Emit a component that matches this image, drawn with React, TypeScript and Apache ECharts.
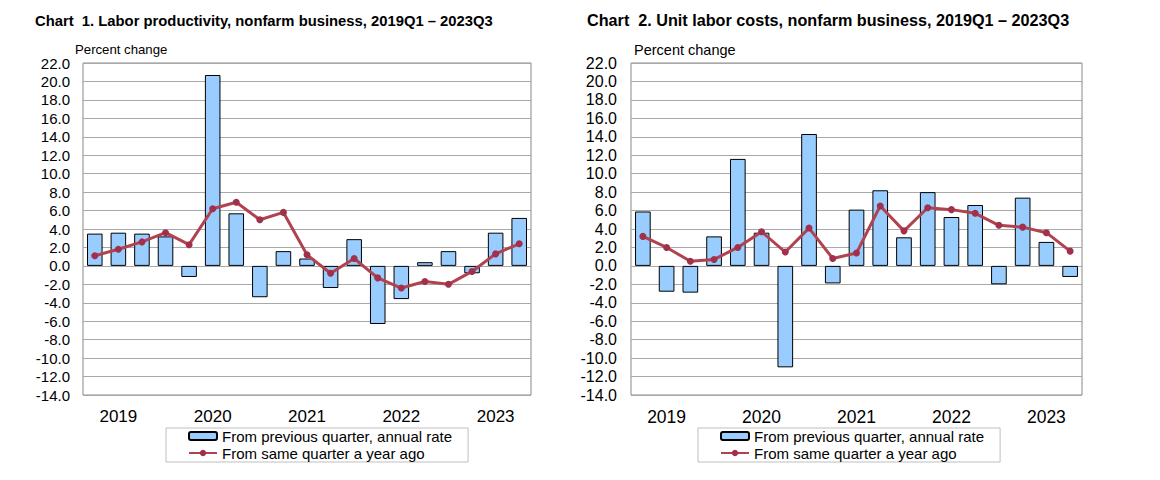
import React, { useEffect, useRef } from "react";
import * as echarts from "echarts";

const quarters = [
  "2019Q1", "2019Q2", "2019Q3", "2019Q4",
  "2020Q1", "2020Q2", "2020Q3", "2020Q4",
  "2021Q1", "2021Q2", "2021Q3", "2021Q4",
  "2022Q1", "2022Q2", "2022Q3", "2022Q4",
  "2023Q1", "2023Q2", "2023Q3",
];

const prodQuarterly = [3.5, 3.6, 3.5, 3.2, -1.2, 20.7, 5.7, -3.4, 1.6, 0.8, -2.4, 2.9, -6.3, -3.6, 0.4, 1.6, -0.8, 3.6, 5.2];
const prodYearAgo = [1.1, 1.8, 2.6, 3.6, 2.3, 6.2, 6.9, 5.0, 5.8, 1.2, -0.8, 0.8, -1.3, -2.4, -1.7, -2.0, -0.6, 1.3, 2.4];

const ulcQuarterly = [5.9, -2.8, -2.9, 3.2, 11.6, 3.6, -11.0, 14.3, -1.9, 6.1, 8.2, 3.1, 8.0, 5.3, 6.6, -2.0, 7.4, 2.6, -1.2];
const ulcYearAgo = [3.2, 2.0, 0.5, 0.7, 2.0, 3.7, 1.5, 4.1, 0.8, 1.4, 6.5, 3.8, 6.3, 6.1, 5.7, 4.4, 4.2, 3.6, 1.6];

const titles = [
  "Chart  1. Labor productivity, nonfarm business, 2019Q1 \u2013 2023Q3",
  "Chart  2. Unit labor costs, nonfarm business, 2019Q1 \u2013 2023Q3",
];
const yAxisName = "Percent change";
const barName = "From previous quarter, annual rate";
const lineName = "From same quarter a year ago";

const FONT = "'Liberation Sans', Arial, sans-serif";
const BAR_FILL = "#99CCFF";
const LINE_COLOR = "#B0434F";
const MARKER_COLOR = "#A0304C";

export default function App() {
  const ref = useRef<HTMLDivElement>(null);

  useEffect(() => {
    if (!ref.current) return;
    const chart = echarts.init(ref.current, undefined, { renderer: "svg" });

    const grids = [
      { left: 83, top: 63, width: 448, height: 332 },
      { left: 631, top: 63, width: 451, height: 332 },
    ];
    const yFont = [15, 16];
    const yMargin = [13, 14];
    const xFont = [17, 17.5];

    const makeX = (gi: number) => ({
      type: "category",
      gridIndex: gi,
      data: quarters,
      axisLine: { show: false, onZero: false },
      axisTick: { show: false },
      splitLine: { show: false },
      axisLabel: {
        interval: (idx: number) => idx % 4 === 1,
        formatter: (v: string) => v.slice(0, 4),
        color: "#000",
        fontSize: xFont[gi],
        fontFamily: FONT,
        margin: 13,
      },
    });

    const makeY = (gi: number) => ({
      type: "value",
      gridIndex: gi,
      min: -14,
      max: 22,
      interval: 2,
      axisLine: { show: false },
      axisTick: { show: false },
      splitLine: { show: true, lineStyle: { color: "#A9A9A9", width: 1 } },
      axisLabel: {
        formatter: (v: number) => v.toFixed(1),
        color: "#000",
        fontSize: yFont[gi],
        fontFamily: FONT,
        margin: yMargin[gi],
      },
    });

    const barSeries = (gi: number, data: number[]) => ({
      type: "bar",
      name: barName,
      xAxisIndex: gi,
      yAxisIndex: gi,
      data,
      barCategoryGap: "34%",
      itemStyle: { color: BAR_FILL, borderColor: "#000", borderWidth: 1 },
      z: 2,
    });

    const lineSeries = (gi: number, data: number[]) => ({
      type: "line",
      name: lineName,
      xAxisIndex: gi,
      yAxisIndex: gi,
      data,
      symbol: "circle",
      symbolSize: 7,
      lineStyle: { color: LINE_COLOR, width: 3 },
      itemStyle: { color: MARKER_COLOR },
      z: 3,
    });

    const legend = (left: number) => ({
      orient: "vertical",
      left,
      top: 428,
      data: [barName, lineName],
      itemWidth: 28,
      itemHeight: 8,
      itemGap: 1,
      padding: [0, 16, 1, 22],
      borderColor: "#BFBFBF",
      borderWidth: 1,
      selectedMode: false,
      textStyle: { fontSize: 15, fontFamily: FONT, color: "#000", lineHeight: 16 },
    });

    chart.setOption({
      animation: false,
      backgroundColor: "#fff",
      title: [
        { text: titles[0], left: 35, top: 13, padding: 0, textStyle: { fontSize: 14.8, fontWeight: "bold", fontFamily: FONT, color: "#000" } },
        { text: titles[1], left: 587, top: 12, padding: 0, textStyle: { fontSize: 16.2, fontWeight: "bold", fontFamily: FONT, color: "#000" } },
        { text: yAxisName, left: 75, top: 43, padding: 0, textStyle: { fontSize: 13.2, fontWeight: "normal", fontFamily: FONT, color: "#000" } },
        { text: yAxisName, left: 634, top: 42, padding: 0, textStyle: { fontSize: 14.5, fontWeight: "normal", fontFamily: FONT, color: "#000" } },
      ],
      grid: grids.map((g) => ({ ...g, show: true, borderColor: "#888", borderWidth: 1, backgroundColor: "transparent" })),
      xAxis: [makeX(0), makeX(1)],
      yAxis: [makeY(0), makeY(1)],
      legend: [legend(166), legend(698)],
      series: [
        barSeries(0, prodQuarterly),
        lineSeries(0, prodYearAgo),
        barSeries(1, ulcQuarterly),
        lineSeries(1, ulcYearAgo),
      ],
    });

    return () => chart.dispose();
  }, []);

  return (
    <div
      ref={ref}
      style={{ position: "fixed", left: 0, top: 0, width: 1160, height: 480, background: "#fff" }}
    />
  );
}
